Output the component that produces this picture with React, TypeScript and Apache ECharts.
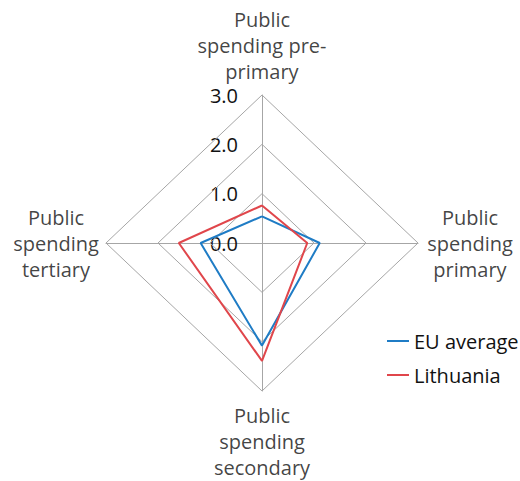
import React, { useEffect, useRef } from "react";
import * as echarts from "echarts";

const categories = [
  "Public\nspending pre-\nprimary",
  "Public\nspending\nprimary",
  "Public\nspending\nsecondary",
  "Public\nspending\ntertiary",
];
const euAverage = [0.54, 1.11, 2.08, 1.18];
const lithuania = [0.76, 0.87, 2.39, 1.6];
const ringValues = [1, 2, 3];
const axisMax = 3;
const seriesNames = ["EU average", "Lithuania"];
const seriesColors = ["#1f7cc5", "#e0464b"];

// direction of each indicator axis: top, right, bottom, left
const directions: [number, number][] = [
  [0, 1],
  [1, 0],
  [0, -1],
  [-1, 0],
];

const toPolygon = (vals: number[]) => {
  const pts = vals.map((v, i) => [directions[i][0] * v, directions[i][1] * v]);
  pts.push(pts[0]);
  return pts;
};

const FONT = "'Open Sans', 'Noto Sans', sans-serif";
const GRAY = "#a6a6a6";
const TEXT = "#111";

export default function App() {
  const ref = useRef<HTMLDivElement>(null);
  useEffect(() => {
    if (!ref.current) return;
    const chart = echarts.init(ref.current, undefined, { renderer: "svg" });

    const ringSeries = ringValues.map((r) => ({
      type: "line",
      name: "ring" + r,
      data: toPolygon(categories.map(() => r)),
      symbol: "none",
      silent: true,
      lineStyle: { color: GRAY, width: 1 },
      z: 1,
    }));

    const labelPositions = [
      { position: "top", distance: 11 },
      { position: "right", distance: 52, align: "center" },
      { position: "bottom", distance: 11 },
      { position: "left", distance: 50, align: "center" },
    ];

    chart.setOption({
      animation: false,
      textStyle: { fontFamily: FONT },
      grid: { left: 106, top: 95, width: 312, height: 296, containLabel: false },
      xAxis: {
        type: "value",
        min: -axisMax,
        max: axisMax,
        interval: 1,
        axisLine: { show: true, onZero: true, lineStyle: { color: GRAY, width: 1 } },
        axisTick: { show: false },
        axisLabel: { show: false },
        splitLine: { show: false },
      },
      yAxis: {
        type: "value",
        min: -axisMax,
        max: axisMax,
        interval: 1,
        offset: -156,
        axisLine: { show: true, onZero: false, lineStyle: { color: GRAY, width: 1 } },
        axisTick: { show: false },
        axisLabel: {
          show: true,
          margin: 24,
          fontSize: 20,
          color: TEXT,
          fontFamily: FONT,
          formatter: (v: number) => (v >= 0 ? v.toFixed(1) : ""),
        },
        splitLine: { show: false },
      },
      legend: {
        data: seriesNames.map((n) => ({ name: n, icon: "rect" })),
        orient: "vertical",
        left: 387,
        top: 331,
        padding: 0,
        itemWidth: 22,
        itemHeight: 2,
        itemGap: 14,
        textStyle: { fontSize: 20, lineHeight: 20, color: TEXT, fontFamily: FONT },
      },
      series: [
        ...ringSeries,
        {
          type: "scatter",
          name: "indicators",
          symbolSize: 0,
          silent: true,
          data: categories.map((c, i) => ({
            name: c,
            value: [directions[i][0] * axisMax, directions[i][1] * axisMax],
            label: labelPositions[i],
          })),
          label: {
            show: true,
            formatter: (p: any) => p.name,
            fontSize: 20,
            lineHeight: 26,
            color: TEXT,
            fontFamily: FONT,
            align: "center",
          },
        },
        ...seriesNames.map((n, k) => ({
          type: "line",
          name: n,
          data: toPolygon(k === 0 ? euAverage : lithuania),
          symbol: "none",
          color: seriesColors[k],
          itemStyle: { color: seriesColors[k] },
          lineStyle: { color: seriesColors[k], width: 2 },
          z: 3 + k,
        })),
      ],
    });
    return () => chart.dispose();
  }, []);
  return (
    <div
      ref={ref}
      style={{ position: "absolute", left: 0, top: 0, width: 520, height: 481 }}
    />
  );
}
